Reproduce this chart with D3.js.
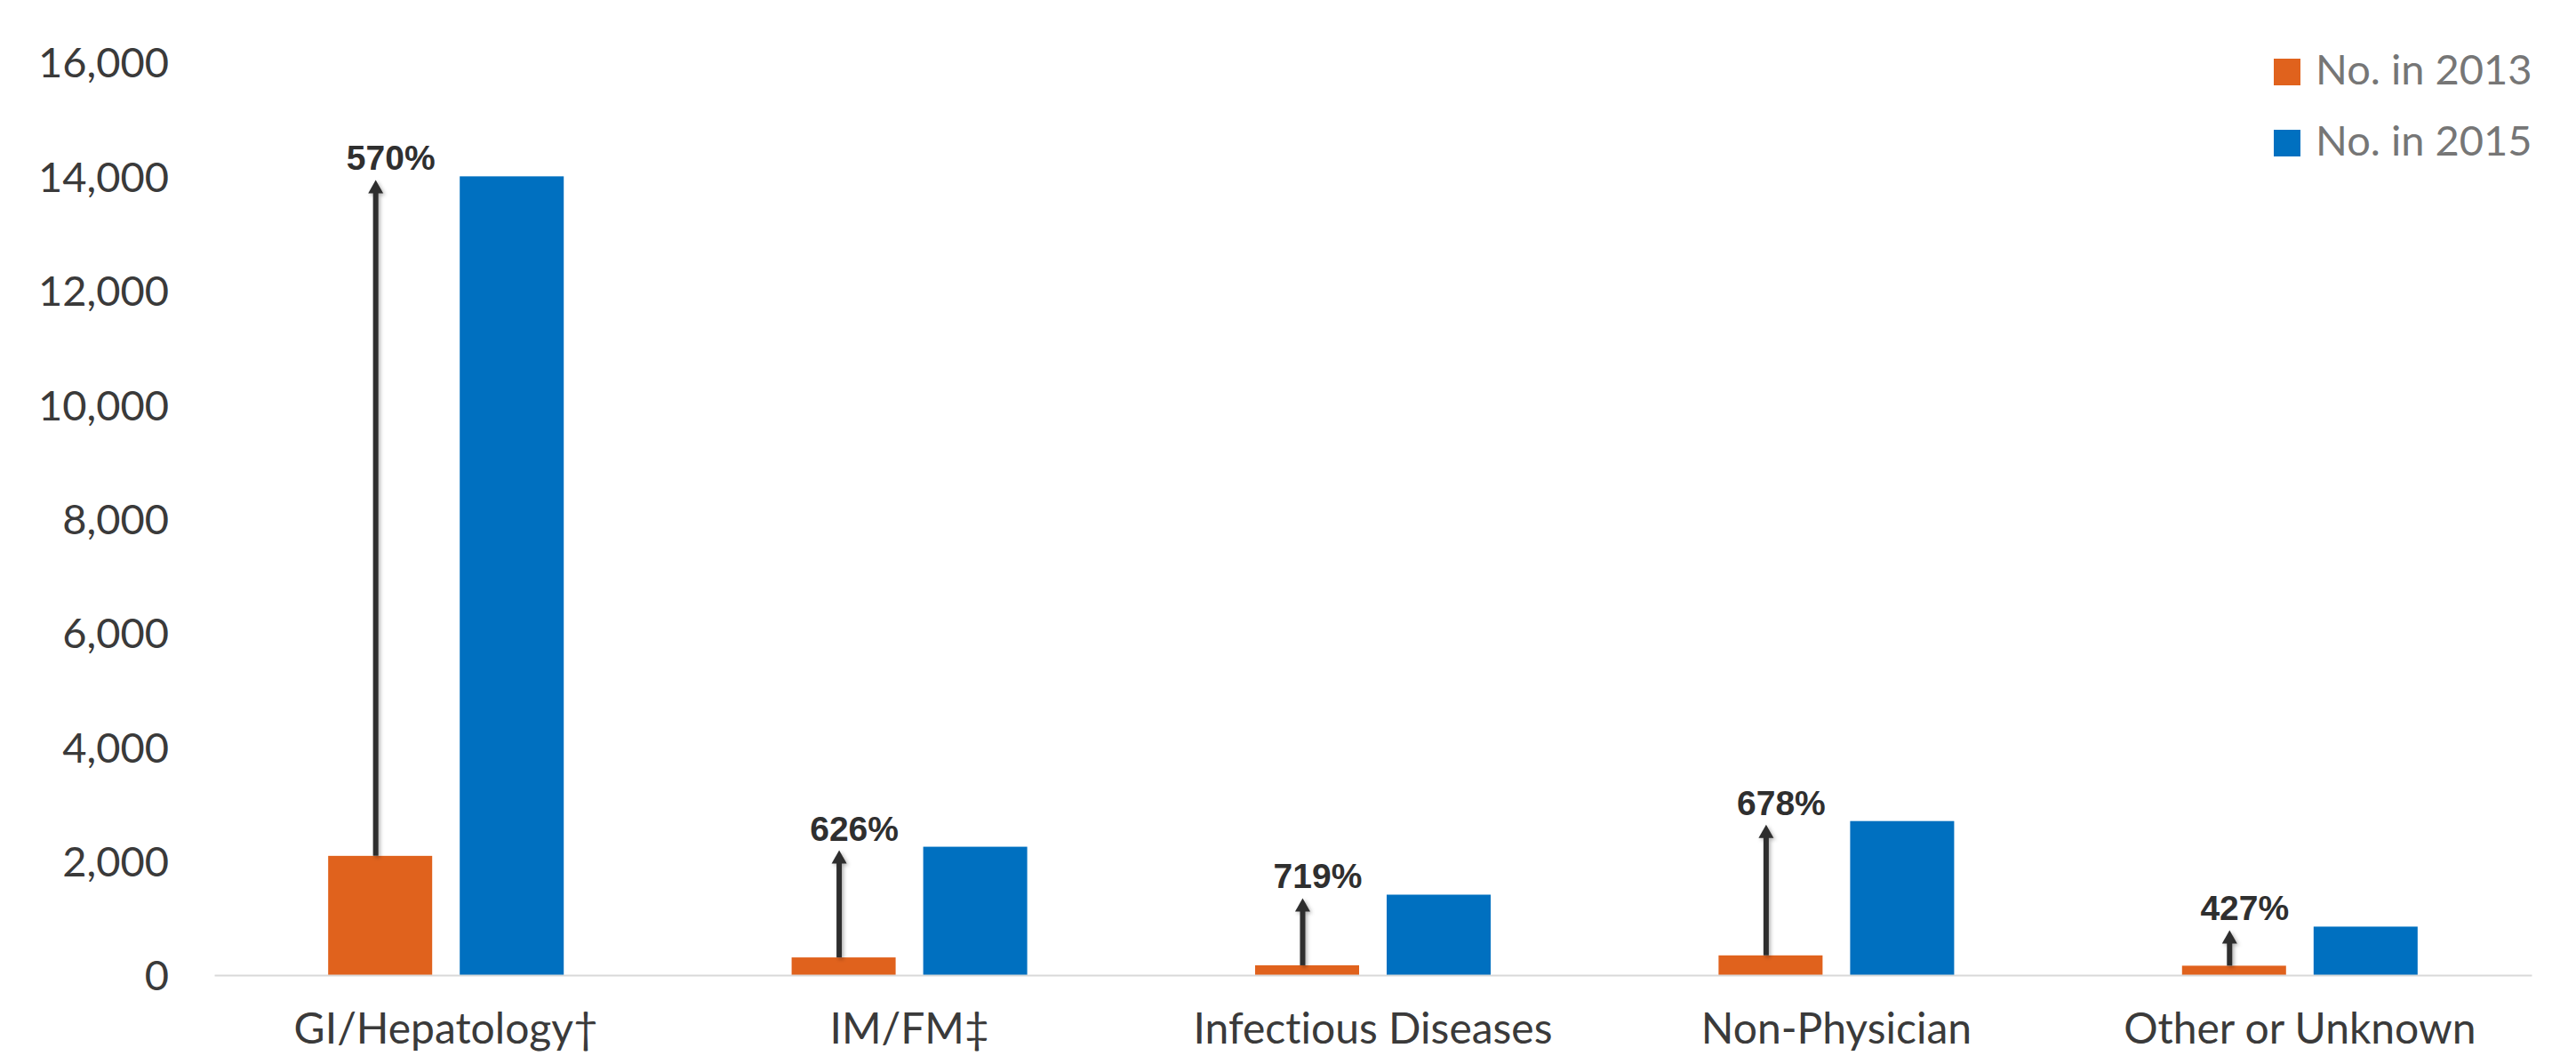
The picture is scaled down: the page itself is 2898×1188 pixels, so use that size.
<!DOCTYPE html>
<html>
<head>
<meta charset="utf-8">
<script src="https://cdn.jsdelivr.net/npm/d3@7"></script>
<style>
  html, body { margin: 0; padding: 0; background: #ffffff; }
  svg { display: block; }
  text { font-variant-ligatures: none; font-feature-settings: "liga" 0; }
</style>
</head>
<body>
<svg id="chart" width="2898" height="1188"></svg>
<script>
// Prescribers by specialty, 2013 vs 2015
const categories = ["GI/Hepatology†", "IM/FM‡", "Infectious Diseases", "Non-Physician", "Other or Unknown"];
const seriesNames = ["No. in 2013", "No. in 2015"];
const no2013 = [2090, 310, 172, 346, 165];
const no2015 = [14000, 2250, 1410, 2700, 850];
const increaseLabels = ["570%", "626%", "719%", "678%", "427%"];
const yTicks = [0, 2000, 4000, 6000, 8000, 10000, 12000, 14000, 16000];

const colors = { "No. in 2013": "#E0621D", "No. in 2015": "#0070C0" };

const W = 2898, H = 1188;
const plot = { left: 241, right: 2848, top: 70, bottom: 1097 };

const svg = d3.select("#chart");

const defs = svg.append("defs");
const shadow = defs.append("filter").attr("id", "arrowShadow")
  .attr("x", "-50%").attr("y", "-10%").attr("width", "200%").attr("height", "120%");
shadow.append("feDropShadow").attr("dx", 2).attr("dy", 2).attr("stdDeviation", 2)
  .attr("flood-color", "#000").attr("flood-opacity", 0.3);

const x = d3.scaleBand().domain(categories).range([plot.left, plot.right]).paddingInner(0).paddingOuter(0);
const xInner = d3.scaleBand().domain(seriesNames).range([0, x.bandwidth()]).paddingInner(0.2095).paddingOuter(0.866);
const y = d3.scaleLinear().domain([0, 16000]).range([plot.bottom, plot.top]);

// y axis labels (no axis line, no gridlines)
const yAxis = d3.axisLeft(y).tickValues(yTicks).tickFormat(d3.format(",")).tickSize(0).tickPadding(0);
const yG = svg.append("g").attr("transform", `translate(190,0)`).call(yAxis);
yG.select(".domain").remove();
yG.selectAll("text")
  .attr("font-family", "Lato, 'Open Sans', sans-serif")
  .attr("font-size", 47)
  .attr("fill", "#3a3a3a")
  .attr("dy", "0.36em");

// bars
const rows = categories.map((c, i) => ({ cat: c, values: [
  { key: seriesNames[0], v: no2013[i] },
  { key: seriesNames[1], v: no2015[i] }
]}));

const groups = svg.append("g").selectAll("g").data(rows).join("g")
  .attr("transform", d => `translate(${x(d.cat)},0)`);
groups.selectAll("rect").data(d => d.values).join("rect")
  .attr("x", d => xInner(d.key))
  .attr("width", xInner.bandwidth())
  .attr("y", d => y(d.v))
  .attr("height", d => y(0) - y(d.v))
  .attr("fill", d => colors[d.key]);

// category axis: baseline and labels
const xAxis = d3.axisBottom(x).tickSize(0).tickPadding(0);
const xG = svg.append("g").attr("transform", `translate(0,${plot.bottom})`).call(xAxis);
xG.select(".domain").attr("stroke", "#d9d9d9").attr("stroke-width", 2);
xG.selectAll("text")
  .attr("font-family", "Lato, 'Open Sans', sans-serif")
  .attr("font-size", 48)
  .attr("fill", "#3a3a3a")
  .attr("dy", 0)
  .attr("y", 77);

// growth arrows from 2013 bar up toward 2015 level, with percent labels
const arrows = svg.append("g").attr("filter", "url(#arrowShadow)");
categories.forEach((c, i) => {
  const ax = x(c) + xInner(seriesNames[0]) + xInner.bandwidth() / 2 - 5;
  const yBase = y(no2013[i]);
  const yTip = y(no2015[i]) + 4;
  const headH = 15, headW = 17;
  arrows.append("line")
    .attr("x1", ax).attr("x2", ax)
    .attr("y1", yBase).attr("y2", yTip + headH - 1)
    .attr("stroke", "#2f2f2f").attr("stroke-width", 6);
  arrows.append("path")
    .attr("d", `M${ax},${yTip} L${ax - headW / 2},${yTip + headH} L${ax + headW / 2},${yTip + headH} Z`)
    .attr("fill", "#2f2f2f");
  svg.append("text")
    .attr("x", ax + 17).attr("y", yTip - 11)
    .attr("text-anchor", "middle")
    .attr("font-family", "'Liberation Sans', Arial, sans-serif")
    .attr("font-weight", "bold")
    .attr("font-size", 39)
    .attr("fill", "#2f2f2f")
    .text(increaseLabels[i]);
});

// legend
const legend = svg.append("g").attr("transform", "translate(2558,66)");
seriesNames.forEach((s, i) => {
  const g = legend.append("g").attr("transform", `translate(0,${i * 80})`);
  g.append("rect").attr("width", 30).attr("height", 30).attr("fill", colors[s]);
  g.append("text").attr("x", 47).attr("y", 29)
    .attr("font-family", "Lato, 'Open Sans', sans-serif")
    .attr("font-size", 47)
    .attr("fill", "#767676")
    .text(s);
});
</script>
</body>
</html>
